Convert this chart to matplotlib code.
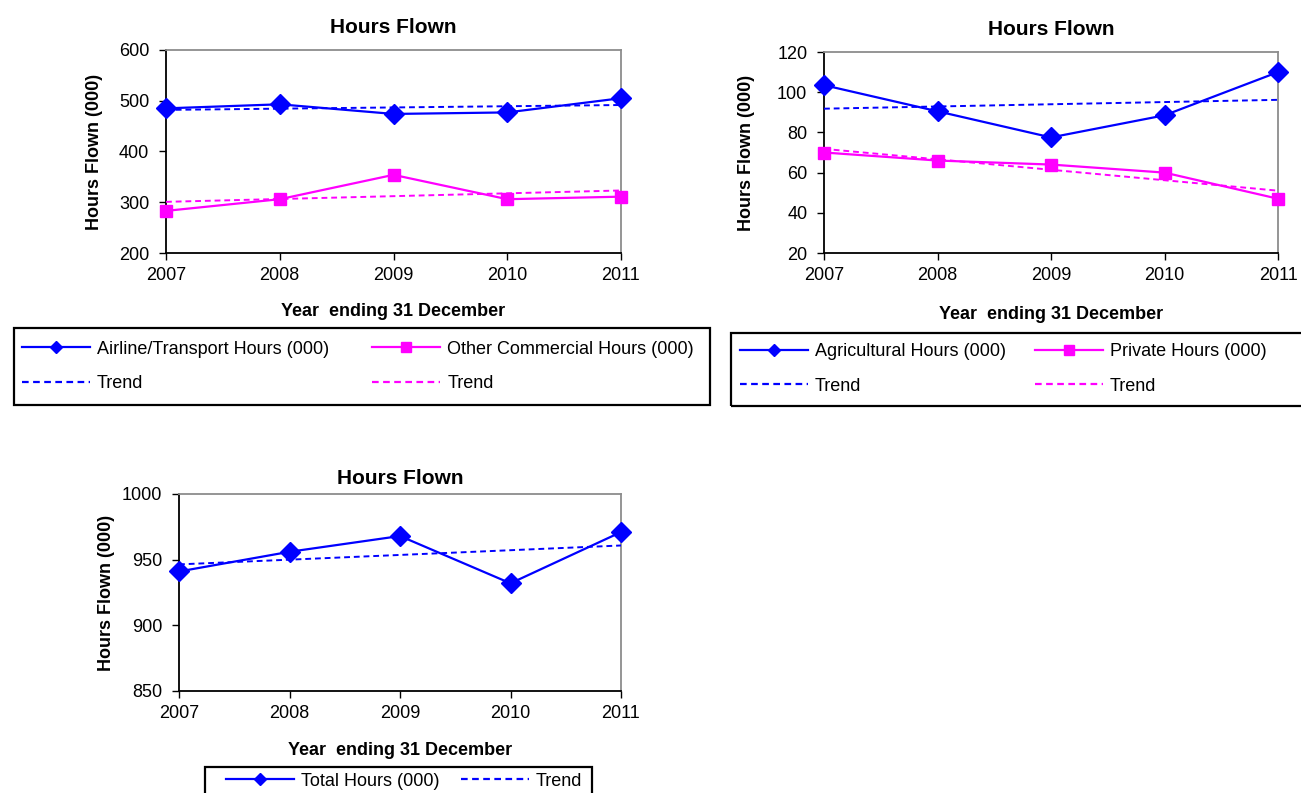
import numpy as np
import matplotlib
matplotlib.use('Agg')
import matplotlib.pyplot as plt
from matplotlib.lines import Line2D
from matplotlib.patches import Rectangle

plt.rcParams['font.family'] = ['Liberation Sans', 'DejaVu Sans']

years = [2007, 2008, 2009, 2010, 2011]

airline_hours = [485, 493, 474, 477, 505]
other_commercial_hours = [283, 306, 354, 306, 311]
agricultural_hours = [103.5, 90.5, 77.5, 88.5, 110]
private_hours = [70, 66, 64, 60, 47]
total_hours = [941, 956, 968, 932, 971]

BLUE = '#0000ff'
MAGENTA = '#ff00ff'
DASH = (0, (3, 2))
W, H = 1301, 793


def px_axes(fig, left, top, right, bottom):
    return fig.add_axes([left / W, 1 - bottom / H, (right - left) / W, (bottom - top) / H])


def trend(values):
    slope, icpt = np.polyfit(years, values, 1)
    return [slope * y + icpt for y in years]


def style_axes(ax, ylim, yticks, xlab_y, ylab_x, title_pad):
    ax.set_xlim(2007, 2011)
    ax.set_xticks(years)
    ax.set_ylim(*ylim)
    ax.set_yticks(yticks)
    ax.tick_params(direction='out', length=5, width=1, labelsize=13, colors='black')
    ax.tick_params(axis='x', pad=5)
    ax.tick_params(axis='y', pad=7)
    for side in ('left', 'bottom'):
        ax.spines[side].set_color('black')
        ax.spines[side].set_linewidth(1.3)
    for side in ('top', 'right'):
        ax.spines[side].set_color('#8c8c8c')
        ax.spines[side].set_linewidth(1.3)
    ax.set_title('Hours Flown', fontsize=15, fontweight='bold', pad=title_pad)
    ax.set_xlabel('Year  ending 31 December', fontsize=13, fontweight='bold', va='center')
    ax.xaxis.set_label_coords(0.5, xlab_y)
    ax.set_ylabel('Hours Flown (000)', fontsize=13, fontweight='bold', va='center')
    ax.yaxis.set_label_coords(ylab_x, 0.5)


def plot_series(ax, values, color, marker, ms):
    ax.plot(years, values, color=color, lw=1.6, marker=marker, ms=ms,
            mec=color, mfc=color, clip_on=False, zorder=4)
    ax.plot(years, trend(values), color=color, lw=1.4, ls=DASH, zorder=3)


def handle(color, marker=None, ms=7, dashed=False):
    return Line2D([], [], color=color, lw=1.6, marker=marker, ms=ms,
                  ls=DASH if dashed else '-')


def legend(fig, handles, labels, box, start_x, mid_y, colsp):
    # box is (left, top, right, bottom) in pixels; frame may run off the figure
    l, t, r, b = box
    fig.patches.append(Rectangle((l / W, 1 - b / H), (r - l) / W, (b - t) / H,
                                 transform=fig.transFigure, fill=False,
                                 edgecolor='black', linewidth=1.6))
    fig.legend(handles, labels, loc='center left',
               bbox_to_anchor=(start_x / W, 1 - mid_y / H),
               ncol=2, fontsize=13, frameon=False, handlelength=3.75,
               handletextpad=0.4, borderpad=0, labelspacing=0.97,
               columnspacing=colsp, borderaxespad=0)


fig = plt.figure(figsize=(W / 100, H / 100), dpi=100)
fig.patch.set_facecolor('white')

# Airline / other commercial
ax1 = px_axes(fig, 166, 50, 621, 253)
plot_series(ax1, airline_hours, BLUE, 'D', 10)
plot_series(ax1, other_commercial_hours, MAGENTA, 's', 8)
style_axes(ax1, (200, 600), range(200, 601, 100), -0.29, -0.157, 12.5)
legend(fig,
       [handle(BLUE, 'D', 6), handle(BLUE, dashed=True),
        handle(MAGENTA, 's', 7), handle(MAGENTA, dashed=True)],
       ['Airline/Transport Hours (000)', 'Trend',
        'Other Commercial Hours (000)', 'Trend'],
       (14, 328, 710, 405), 22, 366.5, 2.4)

# Agricultural / private
ax2 = px_axes(fig, 824, 52, 1278, 253)
plot_series(ax2, agricultural_hours, BLUE, 'D', 10)
plot_series(ax2, private_hours, MAGENTA, 's', 8)
style_axes(ax2, (20, 120), range(20, 121, 20), -0.305, -0.170, 12.5)
legend(fig,
       [handle(BLUE, 'D', 6), handle(BLUE, dashed=True),
        handle(MAGENTA, 's', 7), handle(MAGENTA, dashed=True)],
       ['Agricultural Hours (000)', 'Trend', 'Private Hours (000)', 'Trend'],
       (731, 333, 1320, 406), 740, 369, 1.6)

# Total
ax3 = px_axes(fig, 179, 494, 621, 691)
plot_series(ax3, total_hours, BLUE, 'D', 10)
style_axes(ax3, (850, 1000), range(850, 1001, 50), -0.304, -0.163, 7)
legend(fig,
       [handle(BLUE, 'D', 6), handle(BLUE, dashed=True)],
       ['Total Hours (000)', 'Trend'],
       (205, 767, 592, 810), 226, 781, 1.2)

fig.savefig('out.png', dpi=100, facecolor='white')
